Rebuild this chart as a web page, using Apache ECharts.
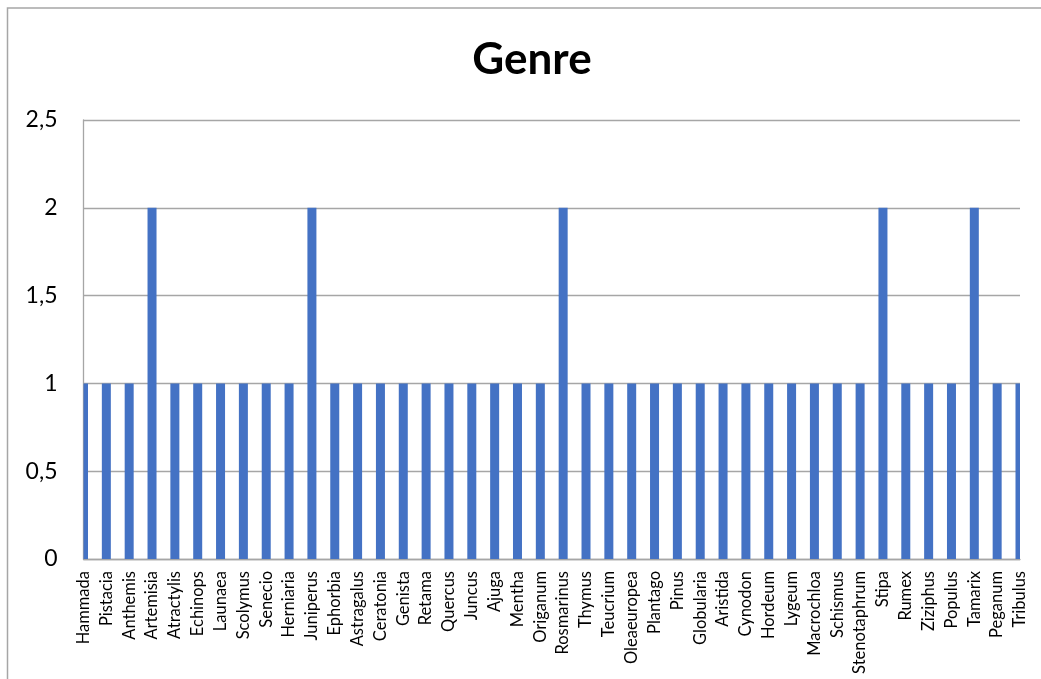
<!DOCTYPE html>
<html>
<head>
<meta charset="utf-8">
<script src="https://cdn.jsdelivr.net/npm/echarts@6/dist/echarts.min.js"></script>
<style>
  html, body { margin: 0; padding: 0; background: #fff; }
  #chart { width: 1041px; height: 679px; }
</style>
</head>
<body>
<div id="chart"></div>
<script>
// Genera and their counts
const genera = [
  'Hammada', 'Pistacia', 'Anthemis', 'Artemisia', 'Atractylis', 'Echinops', 'Launaea',
  'Scolymus', 'Senecio', 'Herniaria', 'Juniperus', 'Ephorbia', 'Astragalus', 'Ceratonia',
  'Genista', 'Retama', 'Quercus', 'Juncus', 'Ajuga', 'Mentha', 'Origanum', 'Rosmarinus',
  'Thymus', 'Teucrium', 'Oleaeuropea', 'Plantago', 'Pinus', 'Globularia', 'Aristida',
  'Cynodon', 'Hordeum', 'Lygeum', 'Macrochloa', 'Schismus', 'Stenotaphrum', 'Stipa',
  'Rumex', 'Ziziphus', 'Populus', 'Tamarix', 'Peganum', 'Tribulus'
];
const counts = [
  1, 1, 1, 2, 1, 1, 1,
  1, 1, 1, 2, 1, 1, 1,
  1, 1, 1, 1, 1, 1, 1, 2,
  1, 1, 1, 1, 1, 1, 1,
  1, 1, 1, 1, 1, 1, 2,
  1, 1, 1, 2, 1, 1
];
const yTicks = { min: 0, max: 2.5, step: 0.5 };

const FONT = 'Lato, "Open Sans", sans-serif';
const BAR_COLOR = '#4472c4';
const BAR_WIDTH = 9;

const chart = echarts.init(document.getElementById('chart'), null, { renderer: 'canvas' });

// Bars centred on the category ticks, clipped to the plot rectangle
function renderBar(params, api) {
  const top = api.coord([api.value(0), api.value(1)]);
  const base = api.coord([api.value(0), 0]);
  const cs = params.coordSys;
  const rect = echarts.graphic.clipRectByRect(
    { x: top[0] - BAR_WIDTH / 2, y: top[1], width: BAR_WIDTH, height: base[1] - top[1] },
    { x: cs.x, y: cs.y, width: cs.width, height: cs.height }
  );
  return rect && { type: 'rect', shape: rect, style: { fill: BAR_COLOR } };
}

chart.setOption({
  animation: false,
  backgroundColor: '#ffffff',
  title: {
    text: 'Genre',
    left: 527,
    top: 33,
    textAlign: 'center',
    textStyle: { fontFamily: FONT, fontWeight: 'bold', fontSize: 44, color: '#000000' }
  },
  graphic: [
    {
      type: 'polyline',
      shape: { points: [[7.5, 679], [7.5, 8], [1041, 8]] },
      style: { stroke: '#a6a6a6', lineWidth: 1.5, fill: null },
      silent: true
    }
  ],
  grid: { left: 83.5, right: 21, top: 120, bottom: 120, containLabel: false },
  xAxis: {
    type: 'category',
    data: genera,
    boundaryGap: false,
    axisLine: { show: true, lineStyle: { color: '#a6a6a6', width: 1.3 } },
    axisTick: { show: false },
    splitLine: { show: false },
    axisLabel: {
      rotate: 90,
      interval: 0,
      margin: 12,
      fontFamily: FONT,
      fontSize: 16.5,
      color: '#000000'
    }
  },
  yAxis: {
    type: 'value',
    min: yTicks.min,
    max: yTicks.max,
    interval: yTicks.step,
    axisLine: { show: true, lineStyle: { color: '#a6a6a6', width: 1.3 } },
    axisTick: { show: false },
    splitLine: { show: true, lineStyle: { color: '#a6a6a6', width: 1.3 } },
    axisLabel: {
      margin: 26,
      fontFamily: FONT,
      fontSize: 23,
      color: '#000000',
      formatter: v => String(v).replace('.', ',')
    }
  },
  series: [
    {
      type: 'custom',
      renderItem: renderBar,
      encode: { x: 0, y: 1 },
      data: genera.map((g, i) => [i, counts[i]]),
      z: 3
    }
  ]
});
</script>
</body>
</html>
